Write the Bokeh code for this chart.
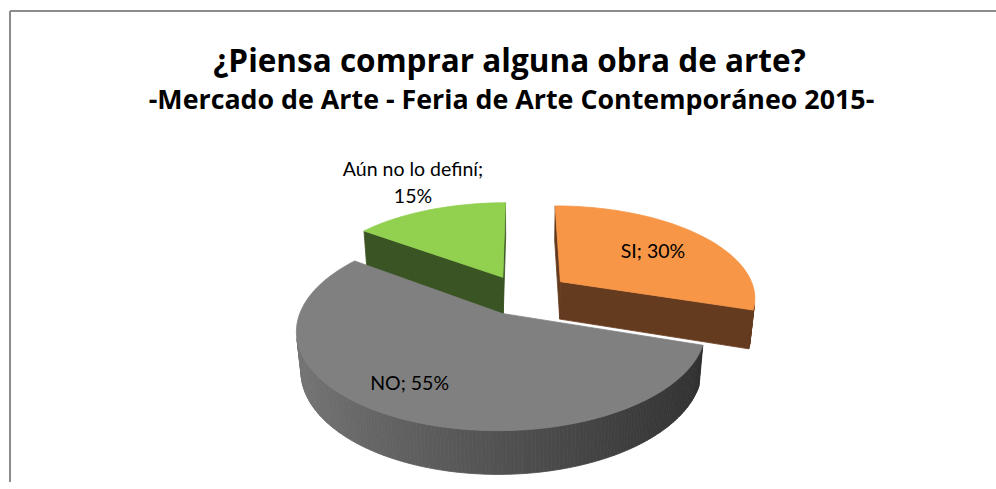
import math
from bokeh.plotting import figure
from bokeh.models import ColumnDataSource
from bokeh.core.properties import value
from bokeh.embed import file_html
from bokeh.resources import INLINE

# ---------------- data ----------------
title_text = "¿Piensa comprar alguna obra de arte?"
subtitle_text = "-Mercado de Arte - Feria de Arte Contemporáneo 2015-"
categories = ["SI", "NO", "Aún no lo definí"]
percent = [30, 55, 15]

# ---------------- style / layout ----------------
W, H = 996, 482
top_colors = ["#F79646", "#808080", "#92D050"]
side_left = ["#653B1F", "#767676", "#3A5423"]
side_right = ["#653B1F", "#2E2E2E", "#3A5423"]
explode = [0.25, 0.22, 0.22]
label_r = [0.65, 0.75, 1.46]
label_shift = [0.0, 5.0, 3.0]
label_wrap = [False, False, True]

ALPHA = math.radians(28)
DIST = 5.5
FOCAL = 1075.0
THICK = 0.225
CX, CY = 521.3, H - 294.3
SA, CA = math.sin(ALPHA), math.cos(ALPHA)
CAM = (0.0, DIST * SA, -DIST * CA)


def proj(x, y, z):
    Y = y * CA + z * SA
    Z = z * CA - y * SA
    sc = FOCAL / (DIST + Z)
    return CX + x * sc, CY + Y * sc


def hex2rgb(h):
    h = h.lstrip("#")
    return tuple(int(h[i:i + 2], 16) for i in (0, 2, 4))


def lerp_col(a, b, t):
    ra, rb = hex2rgb(a), hex2rgb(b)
    return "#%02x%02x%02x" % tuple(int(round(ra[i] + (rb[i] - ra[i]) * t)) for i in range(3))


def dot(a, b):
    return a[0] * b[0] + a[1] * b[1] + a[2] * b[2]


def sub(a, b):
    return (a[0] - b[0], a[1] - b[1], a[2] - b[2])


xs, ys, cols = [], [], []


def add_poly(pts3, col):
    px, py = [], []
    for (x, y, z) in pts3:
        a, b = proj(x, y, z)
        px.append(a)
        py.append(b)
    xs.append(px)
    ys.append(py)
    cols.append(col)


total = float(sum(percent))
starts, spans = [], []
acc = 0.0
for v in percent:
    starts.append(acc)
    spans.append(v / total * 360.0)
    acc += v / total * 360.0

mids = [math.radians(s + sp / 2) for s, sp in zip(starts, spans)]
order = sorted(range(len(percent)), key=lambda i: -math.cos(mids[i]))

for i in order:
    a0 = math.radians(starts[i])
    a1 = math.radians(starts[i] + spans[i])
    m = mids[i]
    k = explode[i]
    ox, oz = k * math.sin(m), k * math.cos(m)
    o_top = (ox, 0.0, oz)
    o_bot = (ox, -THICK, oz)

    def rim(t, y):
        return (ox + math.sin(t), y, oz + math.cos(t))

    def side_col(t):
        return lerp_col(side_left[i], side_right[i], (1 + math.sin(t)) / 2)

    # radial (cut) faces
    n0 = (-math.cos(a0), 0.0, math.sin(a0))
    if dot(sub(CAM, o_top), n0) > 0:
        add_poly([o_top, rim(a0, 0), rim(a0, -THICK), o_bot], side_col(a0))
    n1 = (math.cos(a1), 0.0, -math.sin(a1))
    if dot(sub(CAM, o_top), n1) > 0:
        add_poly([o_top, rim(a1, 0), rim(a1, -THICK), o_bot], side_col(a1))
    # curved outer side
    nseg = max(4, int(spans[i] / 1.0))
    for j in range(nseg):
        t0 = a0 + (a1 - a0) * j / nseg
        t1 = a0 + (a1 - a0) * (j + 1) / nseg
        tm = (t0 + t1) / 2
        nrm = (math.sin(tm), 0.0, math.cos(tm))
        if dot(sub(CAM, rim(tm, -THICK / 2)), nrm) > 0:
            add_poly([rim(t0, 0), rim(t1, 0), rim(t1, -THICK), rim(t0, -THICK)], side_col(tm))
    # top face
    steps = max(8, int(spans[i] / 1.0))
    pts = [o_top] + [rim(a0 + (a1 - a0) * j / steps, 0) for j in range(steps + 1)]
    add_poly(pts, top_colors[i])

p = figure(width=W, height=H, x_range=(0, W), y_range=(0, H), title=None,
           x_axis_location=None, y_axis_location=None,
           output_backend="svg", toolbar_location=None, min_border=0)
p.grid.visible = False
p.outline_line_color = None
p.background_fill_color = "white"
p.border_fill_color = "white"

src = ColumnDataSource(dict(xs=xs, ys=ys, c=cols))
p.patches("xs", "ys", fill_color="c", line_color="c", line_width=0.8, source=src)

# data labels
lx, ly, lt = [], [], []
for i in range(len(percent)):
    k = explode[i]
    m = mids[i]
    ml = m + math.radians(label_shift[i])
    x = k * math.sin(m) + label_r[i] * math.sin(ml)
    z = k * math.cos(m) + label_r[i] * math.cos(ml)
    a, b = proj(x, 0, z)
    lx.append(a)
    ly.append(b)
    sep = ";\n" if label_wrap[i] else "; "
    lt.append(f"{categories[i]}{sep}{percent[i]}%")
p.text(lx, ly, text=lt, text_font=value("Lato"), text_font_size="19.5px",
       text_align="center", text_baseline="middle", text_color="#000000",
       text_line_height=1.2)

# titles
p.text([509], [H - 59], text=[title_text], text_font=value("Open Sans"), text_font_size="31.5px",
       text_font_style="bold", text_align="center", text_baseline="middle", text_color="#000000")
p.text([511], [H - 98], text=[subtitle_text], text_font=value("Open Sans"), text_font_size="26.8px",
       text_font_style="bold", text_align="center", text_baseline="middle", text_color="#000000")

# chart border (left and top edges visible in the crop)
p.segment(x0=[9.5, 9.5], y0=[0, H - 10.5], x1=[9.5, W], y1=[H - 10.5, H - 10.5],
          line_color="#8C8C8C", line_width=2)

open("out.html", "w").write(file_html(p, INLINE))
